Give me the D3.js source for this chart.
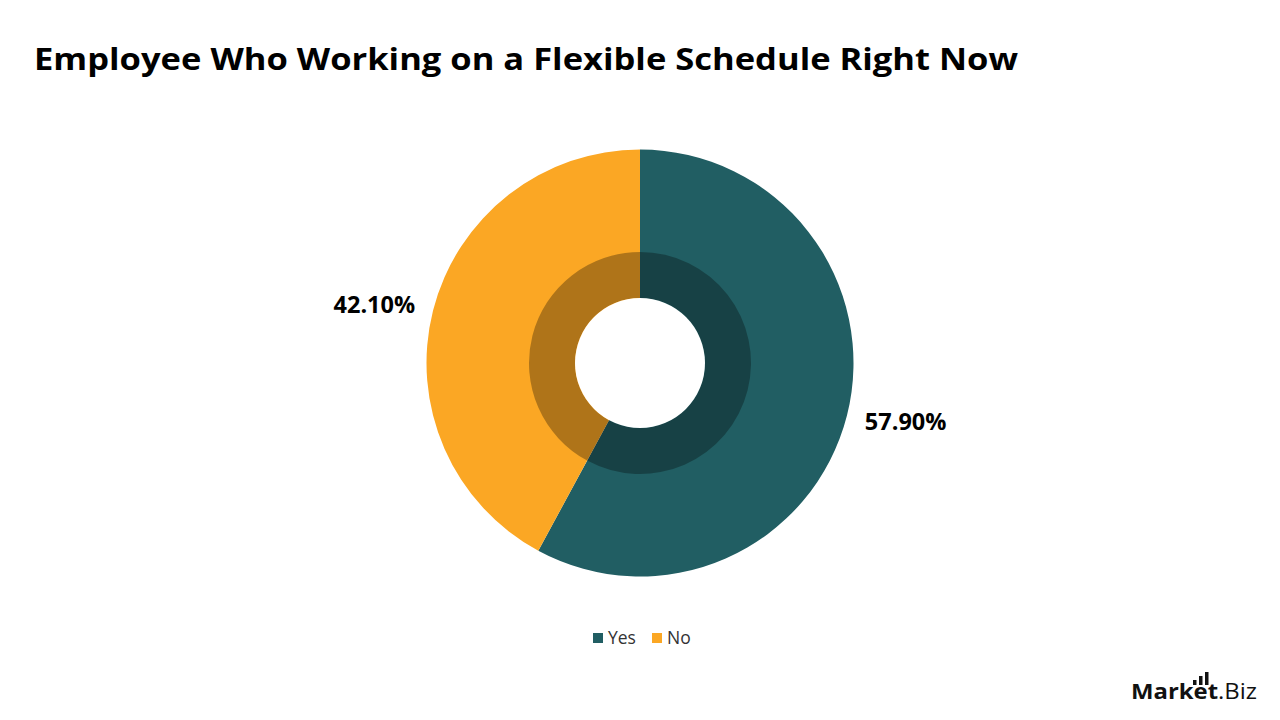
<!DOCTYPE html>
<meta charset="utf-8">
<script src="https://d3js.org/d3.v7.min.js"></script>
<style>
  body { margin: 0; background: #fff; }
  text { font-family: "Open Sans", "Lato", sans-serif; }
</style>
<div id="chart"></div>
<script>

// data
var categories = ["Yes", "No"];
var values = [57.9, 42.1];
var labels = ["57.90%", "42.10%"];
var colors = ["#215E63", "#FBA724"];

var width = 1280, height = 720;
var cx = 640, cy = 363;

var svg = d3.select("#chart")
  .append("svg")
    .attr("width", width)
    .attr("height", height);

// title
svg.append("text")
  .attr("x", 34)
  .attr("y", 70)
  .attr("textLength", 984)
  .attr("lengthAdjust", "spacingAndGlyphs")
  .style("font-size", "31px")
  .style("font-weight", "bold")
  .style("fill", "#000")
  .text("Employee Who Working on a Flexible Schedule Right Now");

var pie = d3.pie().sort(null).value(function(d) { return d; });
var arcs = pie(values);

var outer = d3.arc().innerRadius(0).outerRadius(213.5);
var inner = d3.arc().innerRadius(65).outerRadius(111);

var g = svg.append("g").attr("transform", "translate(" + cx + "," + cy + ")");

g.selectAll("path.slice")
  .data(arcs)
  .enter()
  .append("path")
    .attr("class", "slice")
    .attr("d", outer)
    .style("fill", function(d, i) { return colors[i]; });

// darker inner ring
g.selectAll("path.ring")
  .data(arcs)
  .enter()
  .append("path")
    .attr("class", "ring")
    .attr("d", inner)
    .style("fill", "#000")
    .style("fill-opacity", 0.3);

// hole
g.append("circle").attr("r", 65).style("fill", "#fff");

// labels sit a bit off the slice middle, like the original
function labelPos(d) {
  var a = (d.startAngle + d.endAngle) / 2 - 0.032;
  return [Math.sin(a) * 272, -Math.cos(a) * 272];
}

g.selectAll("text.lbl")
  .data(arcs)
  .enter()
  .append("text")
    .attr("class", "lbl")
    .attr("transform", function(d) { return "translate(" + labelPos(d) + ")"; })
    .attr("text-anchor", "middle")
    .attr("dy", "0.35em")
    .style("font-size", "23.5px")
    .style("font-weight", "bold")
    .style("fill", "#000")
    .text(function(d, i) { return labels[i]; });

// legend
var legendX = [593, 652];
var legend = svg.append("g");
categories.forEach(function(c, i) {
  legend.append("rect")
    .attr("x", legendX[i]).attr("y", 633)
    .attr("width", 10).attr("height", 10)
    .style("fill", colors[i]);
  legend.append("text")
    .attr("x", legendX[i] + 15).attr("y", 644)
    .style("font-size", "17.5px")
    .style("fill", "#333")
    .text(c);
});

// logo
var logo = svg.append("g");
var logoText = logo.append("text")
  .attr("x", 1131).attr("y", 699)
  .attr("textLength", 126)
  .attr("lengthAdjust", "spacingAndGlyphs")
  .style("font-size", "22px")
  .style("fill", "#111");
logoText.append("tspan").style("font-weight", "bold").text("Market");
logoText.append("tspan").style("font-weight", "normal").text(".Biz");
[[1193, 680], [1199, 676], [1205, 672]].forEach(function(b) {
  logo.append("rect")
    .attr("x", b[0]).attr("y", b[1])
    .attr("width", 3.5).attr("height", 685 - b[1])
    .style("fill", "#111");
});

</script>
